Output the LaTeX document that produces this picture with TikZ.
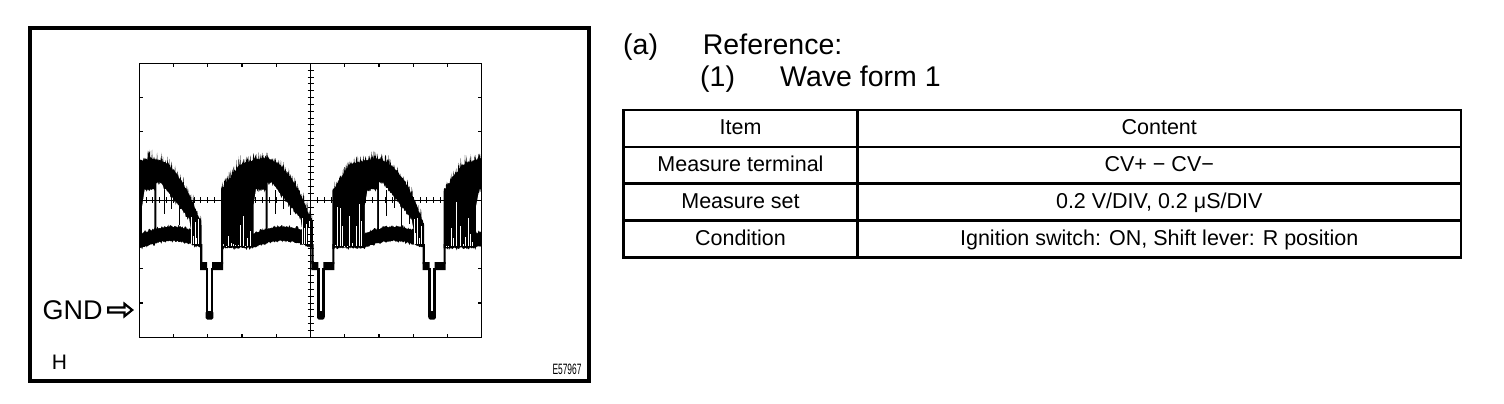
\documentclass[tikz,border=0pt]{standalone}
\usepackage{fontspec}
\setmainfont{Liberation Sans}
\usepackage{graphicx}
\usetikzlibrary{positioning}

\begin{document}
\begin{tikzpicture}[x=1pt, y=-1pt,
    tabcell/.style={draw, line width=2.8pt, outer sep=0pt, inner sep=0pt, minimum height=36.9pt, text height=13pt, text depth=0pt, font=\fontsize{21.5}{25}\selectfont},
    itemcell/.style={tabcell, minimum width=234pt},
    contentcell/.style={tabcell, minimum width=603.5pt},
    head/.style={anchor=base west, inner sep=0pt, font=\fontsize{28.5}{32}\selectfont},
    label/.style={inner sep=0pt, font=\fontsize{#1}{#1}\selectfont},
    declare function={
      envtop(\u)=(\u<30) ? (166+(30-\u)*1.4) : ((\u<55) ? (160+6*(55-\u)*(55-\u)/625) : (160+0.028*(\u-55)*(\u-55)));
      envlow(\u)=(\u<43) ? 247 : (247-7*sin(3*(\u-43)));
    }]
  \useasboundingbox (0,0) rectangle (1504,404);
  \pgfmathsetseed{11}
  \draw[line width=4pt] (30,28) rectangle (589,381);
  \begin{scope}
    \clip (139.3,63.3) rectangle (481.7,337.3);
    \foreach \dip in {98.2,209.5,320.8,432.1}{
      \begin{scope}[xshift=\dip]
        \fill plot[domain=11.5:103.3, samples=220] (\x, {envtop(\x)-2*rnd-9*rnd^4})
          -- plot[domain=103.3:11.5, samples=120] (\x, {envlow(\x)+1.5*rnd+2*rnd^4}) -- cycle;
        \fill[white] (44,206) -- plot[domain=46.5:56.2, samples=18] (\x, {189+4*rnd^2})
          -- plot[domain=56.2:44,samples=18] (\x, {envlow(\x)-13-3*rnd^2}) -- cycle;
        \fill[white] plot[domain=58.2:91, samples=50] (\x, {max(182,182+(\x-62)*1.25)+4*rnd^2})
          -- (92.5,229) -- plot[domain=92:58.2, samples=50] (\x, {envlow(\x)-13-3*rnd^2}) -- cycle;
        \foreach \s in {14.2,16.6,...,42}
          \draw[white, line width=0.5pt] (\s,246) -- (\s,{246-46*rnd^3});
        \foreach \s in {93,94.8,...,102}
          \draw[white, line width=0.5pt] (\s,244) -- (\s,{244-30*rnd});
        \foreach \s in {66,73.5,...,90}
          \draw[line width=0.7pt] (\s,190) -- (\s,{205+22*rnd});
        \fill (-9.5,244) rectangle (-7.2,264) (11.5,244) rectangle (13.5,264);
        \fill (-9.5,262) rectangle (-2.5,270) (2.5,262) rectangle (13.5,270);
        \draw[line width=2.5pt] (-2.5,268) -- (-2.5,316) -- (2.5,316) -- (2.5,268);
        \fill[rounded corners=1.5pt] (-3.8,311) rectangle (3.8,319.5);
      \end{scope}
    }
  \end{scope}
  \draw[line width=1.3pt] (139.3,63.3) rectangle (481.7,337.3);
  \foreach \i in {1,...,9}
    \draw[line width=1.1pt] (139.3+\i*34.24,63.3) -- ++(0,3.5) (139.3+\i*34.24,337.3) -- ++(0,-3.5);
  \foreach \j in {1,...,7}
    \draw[line width=1.1pt] (139.3,63.3+\j*34.24) -- ++(3.5,0) (481.7,63.3+\j*34.24) -- ++(-3.5,0);
  \draw[line width=1.3pt] (139.3,200.26) -- (481.7,200.26) (310.5,63.3) -- (310.5,337.3);
  \foreach \i in {1,...,49}
    \draw[line width=1pt] (139.3+\i*6.848,197.3) -- ++(0,6);
  \foreach \j in {1,...,39}
    \draw[line width=1pt] (307.5,63.3+\j*6.85) -- ++(6,0);
  \node[label=27, anchor=base west] (gnd) at (42.5,319) {GND};
  \draw[line width=2.2pt] (108.3,307.5) -- (124.5,307.5) -- (124.5,303.8) -- (132.2,310) -- (124.5,316.2) -- (124.5,312.5) -- (108.3,312.5) -- cycle;
  \node[label=21, anchor=base west] (hlabel) at (51.7,369) {H};
  \node[label=15, anchor=base east] (figcode) at (581.7,374) {\scalebox{0.56}[1]{E57967}};
  \node[head] (refa) at (623,55) {(a)};
  \node[head] (reftitle) at (702.7,55) {Reference:};
  \node[head] (wave1) at (700,86.7) {(1)};
  \node[head] (wavetitle) at (780,86.7) {Wave form 1};
  \node[itemcell, anchor=north west] (item) at (623.5,110) {Item};
  \node[contentcell, right=0pt of item] (content) {Content};
  \node[itemcell, below=0pt of item] (terminal) {Measure terminal};
  \node[contentcell, right=0pt of terminal] (terminalval) {CV+ − CV−};
  \node[itemcell, below=0pt of terminal] (mset) {Measure set};
  \node[contentcell, right=0pt of mset] (msetval) {0.2 V/DIV, 0.2 μS/DIV};
  \node[itemcell, below=0pt of mset] (cond) {Condition};
  \node[contentcell, right=0pt of cond] (condval) {Ignition switch: ON, Shift lever: R position};
\end{tikzpicture}
\end{document}
